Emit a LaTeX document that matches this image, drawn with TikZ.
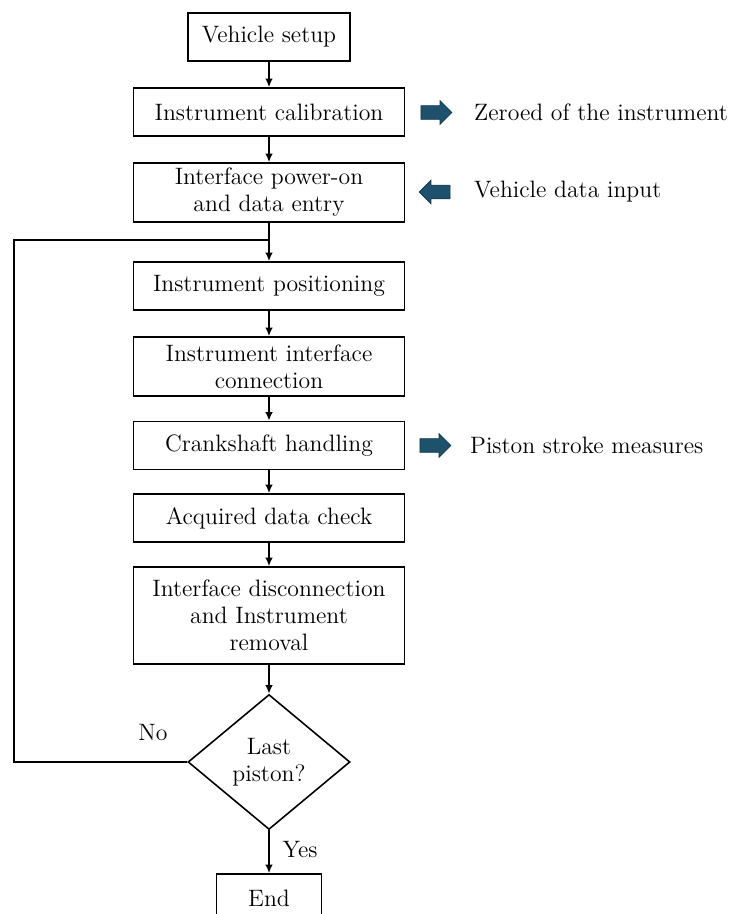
\documentclass[tikz,border=0pt]{standalone}
\usetikzlibrary{shapes.geometric,shapes.arrows,arrows.meta}

\definecolor{arrowblue}{RGB}{30,82,108}

\tikzset{
  flowbox/.style={draw, line width=0.9pt, rectangle, align=center, minimum width=5.42cm, minimum height=0.96cm, inner sep=2pt},
  decidebox/.style={draw, line width=0.9pt, diamond, aspect=1.2, align=center, minimum width=3.24cm, minimum height=2.7cm, inner sep=0pt},
  fatarrow/.style={single arrow, fill=arrowblue, draw=arrowblue!70!black, line width=0.4pt, inner sep=0pt, inner ysep=0.13cm, minimum height=0.62cm, single arrow head extend=0.1cm},
  flowline/.style={line width=0.9pt, -{Latex[length=1.7mm, width=1.5mm]}},
  note/.style={anchor=west, align=left}
}

\begin{document}
\begin{tikzpicture}[font=\fontsize{13.5}{15.4}\selectfont]
\useasboundingbox (0,0) rectangle (14.74,18.28);

% Main chain
\node[flowbox, minimum width=3.24cm] (setup) at (5.38,17.54) {Vehicle setup};
\node[flowbox] (calib) at (5.38,16.04) {Instrument calibration};
\node[flowbox, minimum height=1.18cm] (power) at (5.38,14.43) {Interface power-on\\and data entry};
\node[flowbox] (posit) at (5.38,12.56) {Instrument positioning};
\node[flowbox, minimum height=1.18cm] (conn) at (5.38,10.95) {Instrument interface\\connection};
\node[flowbox] (crank) at (5.38,9.37) {Crankshaft handling};
\node[flowbox] (check) at (5.38,7.92) {Acquired data check};
\node[flowbox, minimum height=1.94cm] (remov) at (5.38,5.97) {Interface disconnection\\and Instrument\\removal};
\node[decidebox] (decide) at (5.38,3.04) {Last\\piston?};
\node[flowbox, minimum width=2.1cm] (end) at (5.38,0.32) {End};

% Side notes
\node[fatarrow] (arrowzero) at (8.66,16.03) {};
\node[note] (zeroed) at (9.36,16.03) {Zeroed of the instrument};
\node[fatarrow, shape border rotate=180] (arrowinput) at (8.76,14.44) {};
\node[note] (vinput) at (9.36,14.44) {Vehicle data input};
\node[fatarrow] (arrowstroke) at (8.64,9.37) {};
\node[note] (stroke) at (9.28,9.37) {Piston stroke measures};

% Connections
\draw[flowline] (setup) -- (calib);
\draw[flowline] (calib) -- (power);
\draw[flowline] (power) -- (posit);
\draw[flowline] (posit) -- (conn);
\draw[flowline] (conn) -- (crank);
\draw[flowline] (crank) -- (check);
\draw[flowline] (check) -- (remov);
\draw[flowline] (remov) -- (decide);
\draw[flowline] (decide) -- node[right=4pt, pos=0.45] (yes) {Yes} (end);

% Loop back
\coordinate (loopleft) at (0.28,13.48);
\coordinate (loopjoin) at (5.38,13.48);
\draw[line width=0.9pt] (decide.west) -| (loopleft) -- (loopjoin);
\node (no) at (3.06,3.62) {No};
\end{tikzpicture}
\end{document}
